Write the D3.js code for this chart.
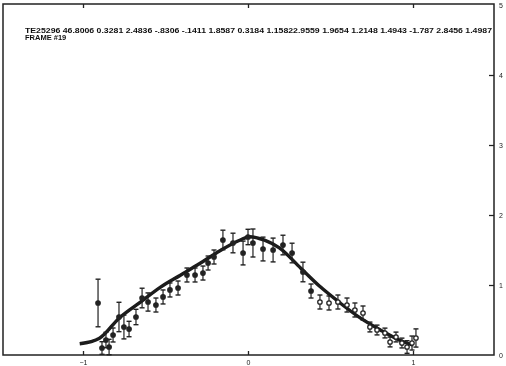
<!DOCTYPE html>
<html>
<head>
<meta charset="utf-8">
<script src="https://cdn.jsdelivr.net/npm/d3@7"></script>
<style>
  body { margin: 0; background: #fff; }
  svg { display: block; }
  .tick text { font-family: "Liberation Sans", sans-serif; font-size: 7px; fill: #222; }
</style>
</head>
<body>
<svg id="chart" width="506" height="366"></svg>
<script>
// measured points (x, y, half error)
var pointX = [-0.909, -0.885, -0.861, -0.842, -0.818, -0.782, -0.752, -0.721, -0.679, -0.642,
    -0.606, -0.558, -0.515, -0.473, -0.424, -0.370, -0.321, -0.273, -0.242, -0.206,
    -0.152, -0.091, -0.030, 0.000, 0.030, 0.091, 0.152, 0.212, 0.267, 0.333,
    0.382, 0.436, 0.491, 0.545, 0.600, 0.648, 0.697, 0.739, 0.782, 0.830,
    0.861, 0.897, 0.933, 0.964, 0.994, 1.018];
var pointY = [0.743, 0.100, 0.214, 0.114, 0.286, 0.543, 0.400, 0.371, 0.543, 0.814,
    0.757, 0.714, 0.829, 0.929, 0.957, 1.143, 1.143, 1.171, 1.314, 1.400,
    1.643, 1.600, 1.457, 1.686, 1.600, 1.514, 1.500, 1.571, 1.457, 1.186,
    0.914, 0.757, 0.743, 0.757, 0.714, 0.643, 0.600, 0.400, 0.357, 0.314,
    0.186, 0.257, 0.171, 0.114, 0.171, 0.243];
var pointErr = [0.34, 0.09, 0.11, 0.11, 0.10, 0.21, 0.17, 0.11, 0.11, 0.14,
    0.13, 0.10, 0.10, 0.10, 0.10, 0.10, 0.10, 0.10, 0.10, 0.10,
    0.14, 0.14, 0.17, 0.11, 0.20, 0.17, 0.17, 0.14, 0.14, 0.14,
    0.10, 0.10, 0.10, 0.10, 0.10, 0.10, 0.10, 0.07, 0.07, 0.07,
    0.07, 0.07, 0.07, 0.09, 0.10, 0.13];

// fitted curve
var fitX = [-1.02, -0.90, -0.78, -0.65, -0.53, -0.41, -0.29, -0.17, -0.05, 0.01,
    0.10, 0.19, 0.32, 0.44, 0.56, 0.68, 0.80, 0.92, 1.00];
var fitY = [0.16, 0.24, 0.53, 0.76, 0.97, 1.14, 1.31, 1.49, 1.64, 1.69,
    1.64, 1.53, 1.24, 0.97, 0.74, 0.53, 0.36, 0.21, 0.14];

var xTicks = [-1, 0, 1];
var yTicks = [0, 1, 2, 3, 4, 5];
var header = 'TE25296 46.8006 0.3281 2.4836 -.8306 -.1411 1.8587 0.3184 1.15822.9559 1.9654 1.2148 1.4943 -1.787 2.8456 1.4987';
var frameLabel = 'FRAME #19';

var frameLeft = 3, frameRight = 494, frameTop = 4, frameBottom = 355;

var svg = d3.select('#chart');
var defs = svg.append('defs');
defs.append('filter').attr('id', 'scan')
    .append('feGaussianBlur').attr('stdDeviation', 0.45);

var g = svg.append('g').attr('filter', 'url(#scan)');

var x = d3.scaleLinear().domain([-1.485, 1.491]).range([frameLeft, frameRight]);
var y = d3.scaleLinear().domain([0, 5]).range([frameBottom, frameTop + 1]);

g.append('rect')
    .attr('x', frameLeft).attr('y', frameTop)
    .attr('width', frameRight - frameLeft).attr('height', frameBottom - frameTop)
    .attr('fill', 'none').attr('stroke', '#222').attr('stroke-width', 1.5);

var xAxis = g.append('g').attr('transform', 'translate(0,' + frameBottom + ')')
    .call(d3.axisBottom(x).tickValues(xTicks).tickSize(-4).tickPadding(5).tickFormat(d3.format('d')));
var xTop = g.append('g').attr('transform', 'translate(0,' + frameTop + ')')
    .call(d3.axisTop(x).tickValues(xTicks).tickSize(-4).tickFormat(''));
var yAxis = g.append('g').attr('transform', 'translate(' + frameRight + ',0)')
    .call(d3.axisRight(y).tickValues(yTicks).tickSize(-5).tickPadding(5).tickFormat(d3.format('d')));
[xAxis, xTop, yAxis].forEach(function (a) {
    a.select('.domain').remove();
    a.selectAll('line').attr('stroke', '#222').attr('stroke-width', 1.3);
});
// the reference draws no tick marks at the frame corners
yAxis.selectAll('.tick').filter(function (d) { return d === 0 || d === 5; }).select('line').remove();

// fit curve
var line = d3.line()
    .x(function (d, i) { return x(fitX[i]); })
    .y(function (d, i) { return y(fitY[i]); })
    .curve(d3.curveMonotoneX);
g.append('path').datum(fitX).attr('d', line)
    .attr('fill', 'none').attr('stroke', '#1a1a1a').attr('stroke-width', 3.4);

// error bars
var pts = g.append('g').selectAll('g').data(pointX).enter().append('g');
pts.append('line')
    .attr('x1', function (d) { return x(d); }).attr('x2', function (d) { return x(d); })
    .attr('y1', function (d, i) { return y(pointY[i] + pointErr[i]); })
    .attr('y2', function (d, i) { return y(pointY[i] - pointErr[i]); })
    .attr('stroke', '#222').attr('stroke-width', 1.2);
[1, -1].forEach(function (s) {
    pts.append('line')
        .attr('x1', function (d) { return x(d) - 2.5; }).attr('x2', function (d) { return x(d) + 2.5; })
        .attr('y1', function (d, i) { return y(pointY[i] + s * pointErr[i]); })
        .attr('y2', function (d, i) { return y(pointY[i] + s * pointErr[i]); })
        .attr('stroke', '#222').attr('stroke-width', 1.4);
});
pts.append('circle')
    .attr('cx', function (d) { return x(d); })
    .attr('cy', function (d, i) { return y(pointY[i]); })
    .attr('r', 2.2)
    .attr('fill', function (d) { return d > 0.4 ? '#fff' : '#222'; })
    .attr('stroke', '#222').attr('stroke-width', 1.3);

g.append('text').attr('x', 25).attr('y', 32.5)
    .attr('font-family', '"Liberation Sans Narrow", "Liberation Sans", sans-serif')
    .attr('font-weight', 'bold').attr('font-size', 7.5).attr('fill', '#111')
    .attr('textLength', 467).attr('lengthAdjust', 'spacingAndGlyphs')
    .text(header);
g.append('text').attr('x', 25).attr('y', 40)
    .attr('font-family', '"Liberation Sans Narrow", "Liberation Sans", sans-serif')
    .attr('font-weight', 'bold').attr('font-size', 7.5).attr('fill', '#111')
    .text(frameLabel);
</script>
</body>
</html>
